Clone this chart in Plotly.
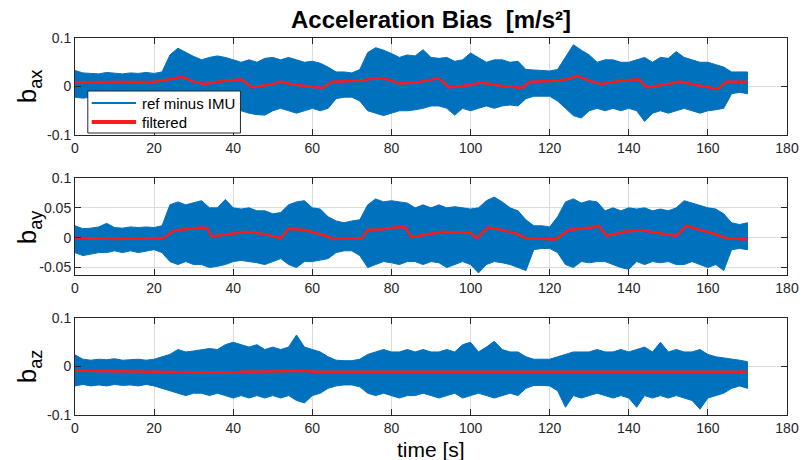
import plotly.graph_objects as go

# ---------------- data ----------------
t_env = list(range(0, 171, 2))  # sampling grid of the read noise envelope [s]

ax_upper = [0.033, 0.028, 0.027, 0.026, 0.029, 0.028, 0.026, 0.028, 0.027, 0.029,
            0.027, 0.030, 0.065, 0.079, 0.070, 0.062, 0.055, 0.060, 0.063, 0.060,
            0.055, 0.050, 0.055, 0.050, 0.058, 0.060, 0.055, 0.060, 0.055, 0.050,
            0.052, 0.048, 0.040, 0.030, 0.030, 0.028, 0.035, 0.070, 0.080, 0.075,
            0.068, 0.060, 0.065, 0.063, 0.076, 0.060, 0.058, 0.060, 0.052, 0.055,
            0.069, 0.060, 0.050, 0.055, 0.055, 0.050, 0.052, 0.035, 0.034, 0.033,
            0.032, 0.035, 0.060, 0.086, 0.075, 0.065, 0.050, 0.055, 0.055, 0.050,
            0.050, 0.055, 0.060, 0.050, 0.060, 0.058, 0.072, 0.060, 0.055, 0.050,
            0.050, 0.045, 0.040, 0.030, 0.030, 0.030]
ax_lower = [-0.022, -0.024, -0.022, -0.025, -0.023, -0.022, -0.025, -0.023, -0.022, -0.024,
            -0.022, -0.028, -0.035, -0.045, -0.050, -0.055, -0.050, -0.050, -0.048, -0.050,
            -0.048, -0.050, -0.055, -0.058, -0.059, -0.050, -0.045, -0.050, -0.055, -0.050,
            -0.045, -0.050, -0.045, -0.025, -0.022, -0.022, -0.030, -0.050, -0.055, -0.060,
            -0.055, -0.050, -0.050, -0.048, -0.045, -0.040, -0.040, -0.045, -0.059, -0.045,
            -0.050, -0.045, -0.040, -0.045, -0.040, -0.038, -0.040, -0.025, -0.020, -0.020,
            -0.020, -0.030, -0.045, -0.060, -0.065, -0.050, -0.045, -0.050, -0.045, -0.050,
            -0.045, -0.050, -0.072, -0.055, -0.050, -0.055, -0.050, -0.045, -0.050, -0.055,
            -0.050, -0.048, -0.045, -0.015, -0.012, -0.015]

ay_upper = [0.020, 0.015, 0.016, 0.018, 0.024, 0.017, 0.016, 0.018, 0.017, 0.018,
            0.017, 0.020, 0.055, 0.060, 0.055, 0.058, 0.062, 0.050, 0.050, 0.064,
            0.050, 0.048, 0.050, 0.045, 0.045, 0.040, 0.042, 0.055, 0.060, 0.062,
            0.050, 0.048, 0.035, 0.028, 0.025, 0.028, 0.030, 0.055, 0.065, 0.060,
            0.062, 0.060, 0.058, 0.050, 0.055, 0.050, 0.055, 0.050, 0.052, 0.050,
            0.048, 0.050, 0.062, 0.068, 0.060, 0.050, 0.045, 0.030, 0.020, 0.020,
            0.018, 0.035, 0.060, 0.065, 0.058, 0.062, 0.060, 0.045, 0.050, 0.045,
            0.050, 0.048, 0.050, 0.045, 0.048, 0.045, 0.050, 0.062, 0.058, 0.055,
            0.050, 0.048, 0.040, 0.025, 0.022, 0.025]
ay_lower = [-0.025, -0.030, -0.028, -0.025, -0.025, -0.022, -0.025, -0.022, -0.025, -0.022,
            -0.020, -0.025, -0.040, -0.045, -0.040, -0.045, -0.045, -0.050, -0.048, -0.045,
            -0.040, -0.038, -0.040, -0.042, -0.045, -0.040, -0.035, -0.045, -0.050, -0.040,
            -0.040, -0.038, -0.035, -0.025, -0.022, -0.022, -0.030, -0.050, -0.045, -0.040,
            -0.042, -0.045, -0.040, -0.040, -0.045, -0.040, -0.042, -0.050, -0.045, -0.040,
            -0.045, -0.059, -0.045, -0.040, -0.042, -0.045, -0.050, -0.055, -0.020, -0.018,
            -0.018, -0.025, -0.045, -0.050, -0.040, -0.042, -0.040, -0.040, -0.045, -0.050,
            -0.053, -0.040, -0.045, -0.040, -0.042, -0.040, -0.045, -0.045, -0.040, -0.045,
            -0.050, -0.045, -0.055, -0.020, -0.018, -0.020]

az_upper = [0.024, 0.015, 0.013, 0.015, 0.014, 0.016, 0.013, 0.014, 0.015, 0.013,
            0.015, 0.020, 0.025, 0.035, 0.030, 0.032, 0.035, 0.037, 0.035, 0.045,
            0.050, 0.045, 0.040, 0.045, 0.035, 0.040, 0.035, 0.040, 0.065, 0.040,
            0.035, 0.030, 0.020, 0.013, 0.012, 0.012, 0.015, 0.025, 0.030, 0.035,
            0.030, 0.030, 0.035, 0.030, 0.035, 0.030, 0.030, 0.035, 0.030, 0.045,
            0.050, 0.030, 0.040, 0.052, 0.035, 0.030, 0.030, 0.020, 0.015, 0.015,
            0.015, 0.020, 0.025, 0.030, 0.030, 0.030, 0.035, 0.030, 0.030, 0.035,
            0.030, 0.035, 0.040, 0.030, 0.050, 0.030, 0.035, 0.030, 0.030, 0.035,
            0.025, 0.020, 0.018, 0.015, 0.013, 0.010]
az_lower = [-0.040, -0.037, -0.040, -0.038, -0.040, -0.037, -0.039, -0.038, -0.040, -0.037,
            -0.040, -0.045, -0.050, -0.055, -0.060, -0.055, -0.055, -0.060, -0.055, -0.060,
            -0.065, -0.060, -0.065, -0.060, -0.065, -0.060, -0.065, -0.060, -0.070, -0.075,
            -0.060, -0.055, -0.045, -0.040, -0.038, -0.038, -0.042, -0.055, -0.060, -0.055,
            -0.060, -0.065, -0.060, -0.060, -0.055, -0.060, -0.065, -0.060, -0.055, -0.065,
            -0.060, -0.055, -0.060, -0.065, -0.060, -0.055, -0.060, -0.045, -0.039, -0.039,
            -0.040, -0.050, -0.084, -0.060, -0.065, -0.060, -0.055, -0.060, -0.065, -0.060,
            -0.065, -0.084, -0.060, -0.065, -0.060, -0.065, -0.060, -0.065, -0.070, -0.088,
            -0.065, -0.060, -0.055, -0.045, -0.040, -0.045]

ax_filt_t = [0, 20, 24, 27, 30, 33, 36, 42, 44.8, 50, 52, 55, 62.5, 65, 72, 76, 79, 82,
             86, 92, 94.6, 100, 102.5, 108, 113, 115, 122, 125, 127, 130, 133, 138,
             142.5, 144.5, 150, 153, 157, 162.5, 164.7, 170]
ax_filt = [0.009, 0.010, 0.015, 0.020, 0.010, 0.005, 0.010, 0.015, -0.002, 0.005,
           0.010, 0.004, -0.003, 0.010, 0.012, 0.017, 0.015, 0.006, 0.008, 0.017,
           -0.002, 0.003, 0.008, 0.001, -0.003, 0.010, 0.012, 0.016, 0.022, 0.012,
           0.005, 0.012, 0.015, -0.002, 0.005, 0.010, 0.003, -0.005, 0.010, 0.010]

ay_filt_t = [0, 10, 20, 22.5, 25, 28, 32, 33.5, 34.5, 40, 43, 48, 52, 54, 58, 64, 65,
             72.5, 74, 78, 81.5, 83.5, 85, 93, 100, 101.6, 104.4, 108, 111.5, 114, 121.5,
             124.8, 130.6, 132.3, 134.4, 139, 142.7, 152, 154.6, 158, 161.4, 164.7, 170]
ay_filt = [0.000, -0.002, -0.001, 0.000, 0.012, 0.014, 0.017, 0.016, 0.002, 0.007,
           0.010, 0.006, -0.001, 0.015, 0.013, 0.002, -0.002, -0.001, 0.013, 0.014,
           0.018, 0.017, 0.001, 0.010, 0.008, -0.001, 0.017, 0.013, 0.007, -0.001,
           -0.003, 0.013, 0.017, 0.020, 0.003, 0.010, 0.013, 0.003, 0.020, 0.013,
           0.007, -0.001, -0.003]

az_filt_t = [0, 20, 40, 42, 58, 60, 80, 100, 120, 140, 160, 170]
az_filt = [-0.009, -0.011, -0.013, -0.011, -0.009, -0.011, -0.011, -0.010, -0.011,
           -0.011, -0.010, -0.011]

x_ticks = [0, 20, 40, 60, 80, 100, 120, 140, 160, 180]
y_ticks_ax = [-0.1, 0, 0.1]
y_ticks_ay = [-0.05, 0, 0.05, 0.1]
y_ticks_az = [-0.1, 0, 0.1]
y_labels = ["b<sub>ax</sub>", "b<sub>ay</sub>", "b<sub>az</sub>"]
series_names = ["ref minus IMU", "filtered"]

# ---------------- styling ----------------
BLUE = "#0072BD"
RED = "#FF1A1A"
FONT = "Liberation Sans, Arial, Helvetica, sans-serif"
AXC = "#262626"
GRID = "#dcdcdc"

W, H = 811, 460
ML, MR, MT, MB = 75, 13, 38, 45
PW = W - ML - MR
PH = H - MT - MB


def px(xp):
    return (xp - ML) / PW


def py(yp):
    return (H - MB - yp) / PH


domains = [[py(135), py(38)], [py(275), py(178)], [py(415), py(318)]]
ranges = [[-0.1, 0.1], [-0.0625, 0.1], [-0.1, 0.1]]
yticks = [y_ticks_ax, y_ticks_ay, y_ticks_az]
uppers = [ax_upper, ay_upper, az_upper]
lowers = [ax_lower, ay_lower, az_lower]
filt_t = [ax_filt_t, ay_filt_t, az_filt_t]
filt_v = [ax_filt, ay_filt, az_filt]

fig = go.Figure()

for i in range(3):
    sfx = "" if i == 0 else str(i + 1)
    xa, ya = "x" + sfx, "y" + sfx
    fig.add_trace(go.Scatter(
        x=t_env + t_env[::-1], y=uppers[i] + lowers[i][::-1],
        mode="lines", fill="toself", fillcolor=BLUE,
        line=dict(color=BLUE, width=1), showlegend=False,
        name=series_names[0], hoverinfo="skip", xaxis=xa, yaxis=ya))
    fig.add_trace(go.Scatter(
        x=filt_t[i], y=filt_v[i], mode="lines", name=series_names[1],
        line=dict(color=RED, width=2.5), showlegend=False,
        xaxis=xa, yaxis=ya))


def fmt(v):
    return "%g" % v


layout = dict(
    width=W, height=H,
    margin=dict(l=ML, r=MR, t=MT, b=MB),
    paper_bgcolor="white", plot_bgcolor="white",
    font=dict(family=FONT, color=AXC),
    title=dict(text="<b>Acceleration Bias\u00a0\u00a0[m/s²]</b>",
               font=dict(family=FONT, size=24, color="black"),
               x=0.5, xref="paper", xanchor="center",
               y=1 - 20 / H, yref="container", yanchor="middle"),
    showlegend=False,
)

for i in range(3):
    sfx = "" if i == 0 else str(i + 1)
    layout["xaxis" + sfx] = dict(
        domain=[0, 1], anchor="y" + sfx, range=[0, 180],
        tickvals=x_ticks, ticktext=[fmt(v) for v in x_ticks],
        showgrid=True, gridcolor=GRID, gridwidth=1, zeroline=False,
        showline=True, linecolor=AXC, linewidth=1, mirror="ticks",
        ticks="inside", ticklen=6, tickcolor=AXC,
        tickfont=dict(family=FONT, size=14, color=AXC))
    layout["yaxis" + sfx] = dict(
        domain=domains[i], anchor="x" + sfx, range=ranges[i],
        tickvals=yticks[i], ticktext=[fmt(v) for v in yticks[i]],
        showgrid=True, gridcolor=GRID, gridwidth=1, zeroline=False,
        showline=True, linecolor=AXC, linewidth=1, mirror="ticks",
        ticks="inside", ticklen=6, tickcolor=AXC,
        tickfont=dict(family=FONT, size=14, color=AXC))

# legend box drawn inside the first panel (MATLAB style)
shapes = [
    dict(type="rect", xref="paper", yref="paper", layer="above",
         x0=px(88), x1=px(243), y0=py(133), y1=py(91),
         line=dict(color=AXC, width=1), fillcolor="white"),
    dict(type="line", xref="paper", yref="paper", layer="above",
         x0=px(92), x1=px(137), y0=py(103), y1=py(103),
         line=dict(color=BLUE, width=2)),
    dict(type="line", xref="paper", yref="paper", layer="above",
         x0=px(92), x1=px(137), y0=py(122), y1=py(122),
         line=dict(color=RED, width=4)),
]
layout["shapes"] = shapes

annotations = []
for k, yy in enumerate([103, 122]):
    annotations.append(dict(
        text=series_names[k], showarrow=False, xref="paper", yref="paper",
        x=px(141), y=py(yy), xanchor="left", yanchor="middle",
        font=dict(family=FONT, size=15, color="black")))
for i in range(3):
    annotations.append(dict(
        text=y_labels[i], textangle=-90, showarrow=False,
        xref="paper", yref="paper",
        x=px(28), y=sum(domains[i]) / 2,
        xanchor="center", yanchor="middle",
        font=dict(family=FONT, size=26, color="black")))
annotations.append(dict(
    text="time [s]", showarrow=False, xref="paper", yref="paper",
    x=0.5, y=py(449), xanchor="center", yanchor="middle",
    font=dict(family=FONT, size=21, color="black")))
layout["annotations"] = annotations

fig.update_layout(**layout)
fig.write_html("out.html")
